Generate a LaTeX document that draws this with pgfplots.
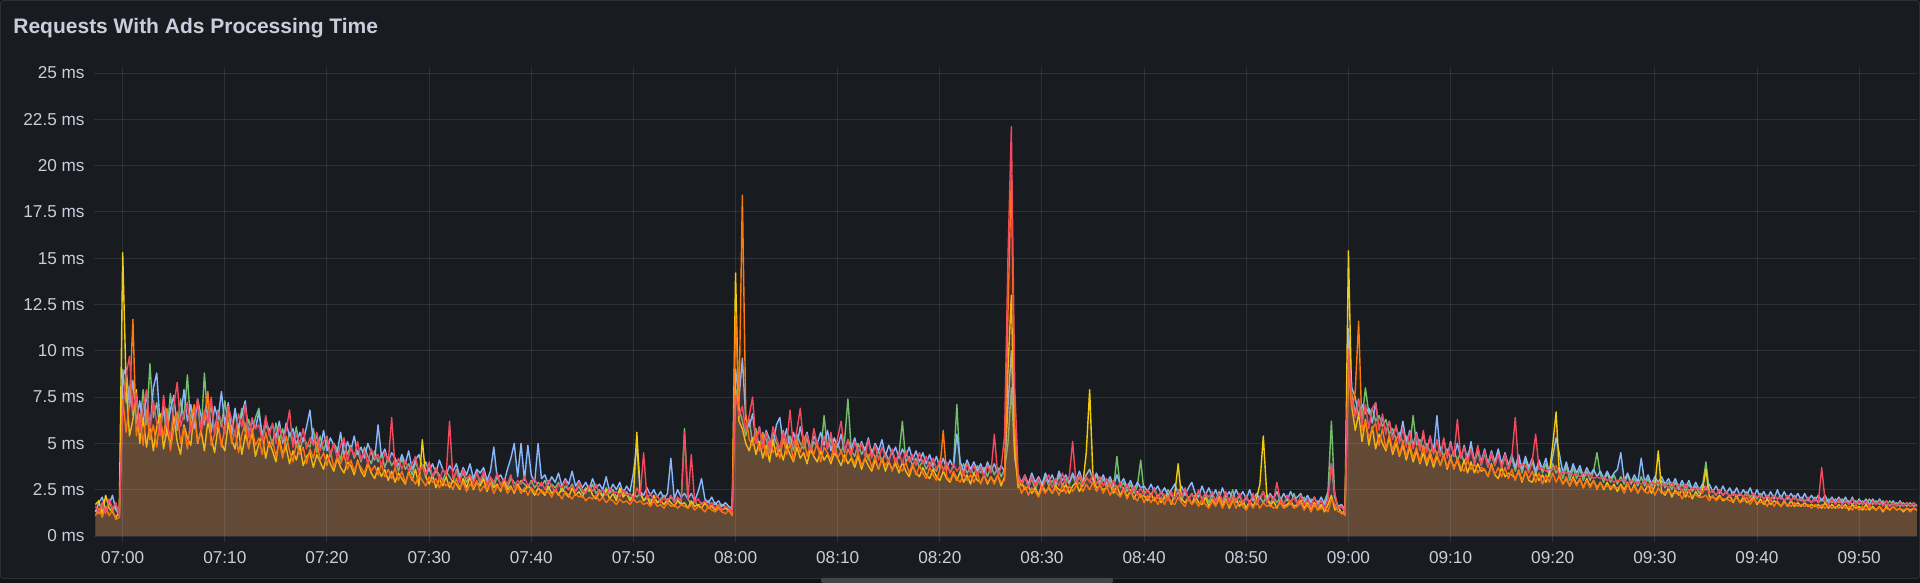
\documentclass[border=0pt]{standalone}
\usepackage{fontspec}
\setmainfont{Liberation Sans}
\usepackage{pgfplots}
\usepackage{pgfplotstable}
\pgfplotsset{compat=1.18}
\definecolor{canvas}{RGB}{17,18,23}
\definecolor{panel}{RGB}{24,27,31}
\definecolor{pborder}{RGB}{44,47,53}
\definecolor{txt}{RGB}{204,204,220}
\definecolor{gridc}{RGB}{204,204,220}
\definecolor{sgreen}{RGB}{115,191,105}
\definecolor{syellow}{RGB}{242,204,12}
\definecolor{sblue}{RGB}{138,184,255}
\definecolor{sorange}{RGB}{255,120,10}
\definecolor{sred}{RGB}{242,73,92}
\definecolor{barc}{RGB}{66,68,73}
\pgfplotstableread{
i g yl b o r
-8 1.4 1.7 1.3 1.1 1.6
-7 1.2 1.9 1.8 1.5 1.3
-6 1.7 1.2 2.1 1.0 1.8
-5 1.3 2.2 1.4 1.6 1.2
-4 1.9 1.5 1.7 1.1 2.0
-3 1.4 1.3 2.2 1.4 1.5
-2 1.6 1.0 1.4 0.9 1.8
-1 1.1 1.3 1.2 1.0 1.1
0 9.0 15.3 8.6 7.4 6.9
1 7.2 8.2 9.1 5.6 8.7
2 8.1 5.4 7.0 7.2 9.7
3 6.5 6.3 8.4 11.7 6.8
4 7.6 7.9 6.1 5.4 7.7
5 5.8 5.0 7.3 6.6 5.6
6 7.9 6.4 6.0 4.9 6.9
7 6.0 4.8 7.8 6.8 7.9
8 9.3 6.1 5.7 5.2 5.8
9 6.4 4.6 8.0 6.0 7.3
10 7.2 5.9 8.8 4.8 6.1
11 5.6 6.6 6.0 6.4 5.4
12 6.9 4.7 7.0 5.3 7.6
13 5.4 5.8 5.5 6.9 6.0
14 7.7 4.9 6.8 4.6 5.3
15 6.1 6.5 7.6 5.8 7.0
16 5.7 5.1 5.9 6.7 8.3
17 7.4 4.4 6.4 5.0 5.9
18 6.3 6.0 7.9 5.9 6.6
19 8.7 5.3 6.2 4.7 7.2
20 5.9 4.9 7.1 6.3 5.6
21 6.6 6.8 5.8 7.1 6.4
22 7.1 5.0 7.4 5.1 7.4
23 5.5 5.7 6.5 5.6 5.7
24 8.8 4.6 6.0 6.4 6.8
25 6.2 6.2 7.7 7.8 6.1
26 7.0 5.3 5.6 4.9 7.5
27 5.7 4.5 7.0 5.5 5.4
28 6.8 5.9 6.3 6.2 6.7
29 5.9 5.0 7.8 4.8 6.2
30 7.3 4.6 6.0 5.9 5.5
31 6.0 6.1 7.2 6.8 7.0
32 5.4 5.2 5.6 5.0 6.3
33 6.7 4.7 6.9 5.7 5.4
34 5.8 5.8 5.7 4.5 6.6
35 6.9 4.4 6.6 5.5 5.9
36 5.6 5.5 7.3 6.1 7.1
37 6.3 4.8 5.5 4.7 5.3
38 5.5 5.6 6.2 5.8 6.4
39 6.4 4.3 5.8 4.9 5.8
40 6.9 5.0 6.7 5.3 6.0
41 5.3 5.4 5.4 4.4 5.1
42 6.0 4.2 6.3 5.6 6.5
43 5.6 5.1 5.7 4.8 5.4
44 4.9 4.6 6.0 5.2 6.1
45 6.1 4.0 5.3 4.3 5.0
46 5.2 5.3 6.2 5.1 5.9
47 5.8 4.4 5.0 4.2 5.2
48 4.7 4.8 6.1 5.4 5.7
49 5.6 3.9 5.4 4.6 6.8
50 5.0 4.6 5.8 4.0 4.8
51 5.9 4.1 4.9 5.0 5.5
52 4.6 4.9 5.6 4.4 5.0
53 5.3 3.8 5.1 4.8 5.8
54 5.0 4.3 5.9 3.9 4.7
55 4.8 4.5 6.8 4.7 5.3
56 5.8 3.7 5.0 4.2 4.9
57 4.5 4.4 5.4 5.1 5.6
58 5.4 4.0 4.7 4.1 4.6
59 4.6 3.6 5.7 4.5 5.1
60 5.2 4.4 4.6 3.8 5.4
61 4.3 3.9 5.3 4.6 4.4
62 5.0 3.5 4.9 3.7 5.0
63 4.7 4.2 4.5 4.3 4.2
64 4.1 3.7 5.6 3.9 4.9
65 5.1 3.4 4.3 4.4 5.3
66 4.4 4.0 5.1 3.6 4.0
67 4.9 3.8 4.6 4.1 4.8
68 4.2 3.3 5.4 3.5 4.3
69 4.6 4.1 4.4 4.0 5.1
70 4.0 3.5 4.8 3.7 4.1
71 4.8 3.2 4.2 3.4 4.6
72 4.3 3.9 5.0 4.0 3.9
73 3.9 3.4 4.5 3.5 4.7
74 4.6 3.1 4.1 3.8 4.2
75 4.0 3.7 6.0 3.3 4.4
76 4.4 3.2 4.3 3.9 3.8
77 3.7 3.6 4.7 3.2 4.5
78 4.3 3.0 4.0 3.6 4.0
79 3.8 3.5 4.5 3.1 6.4
80 4.1 2.9 4.2 3.7 3.7
81 3.5 3.4 3.8 3.0 4.2
82 4.2 3.1 4.4 3.5 3.6
83 3.6 2.8 3.9 2.9 4.1
84 3.9 3.5 4.6 3.4 3.5
85 3.3 3.0 3.6 3.1 3.9
86 4.0 3.6 4.1 2.8 4.3
87 3.5 2.7 4.4 3.3 3.4
88 3.8 5.2 3.7 3.0 3.8
89 3.2 3.2 4.0 2.7 3.3
90 3.7 2.8 3.5 3.2 4.0
91 3.1 3.3 3.9 2.9 3.2
92 3.6 2.6 3.4 3.1 3.7
93 3.3 3.1 4.1 2.6 3.0
94 3.0 2.7 3.6 3.0 3.6
95 3.5 3.2 3.3 2.7 3.3
96 3.2 2.6 3.8 2.9 6.2
97 2.9 3.0 3.5 2.5 3.1
98 3.6 2.8 3.9 3.1 3.5
99 3.1 2.5 3.2 2.6 2.9
100 3.4 3.1 3.7 2.9 3.6
101 2.9 2.6 3.3 2.4 3.1
102 3.3 3.2 3.9 2.8 3.3
103 3.0 2.5 3.1 2.6 2.8
104 3.5 2.9 3.6 3.0 3.4
105 2.8 2.7 3.4 2.4 3.0
106 3.3 3.1 3.7 2.7 3.5
107 2.9 2.4 3.0 2.5 2.7
108 3.1 2.9 3.5 2.9 3.2
109 2.7 2.6 4.8 2.3 2.9
110 3.2 2.8 3.1 2.7 3.4
111 2.8 2.4 3.3 2.5 2.7
112 3.0 3.0 2.9 2.8 3.1
113 2.6 2.5 3.6 2.3 2.8
114 3.1 2.7 4.2 2.6 3.3
115 2.9 2.3 5.0 2.4 2.6
116 2.7 2.8 3.2 2.7 3.0
117 3.0 2.5 5.0 2.3 2.8
118 2.8 2.4 3.0 2.6 3.2
119 2.6 2.8 4.9 2.2 2.7
120 3.0 2.5 3.3 2.6 2.9
121 2.6 2.2 2.9 2.4 3.1
122 2.9 2.6 5.0 2.2 2.6
123 2.7 2.4 3.1 2.5 2.9
124 3.0 2.2 3.3 2.3 2.5
125 2.5 2.7 2.8 2.4 3.0
126 2.8 2.3 3.2 2.1 2.7
127 2.6 2.5 2.9 2.5 2.4
128 2.9 2.2 3.4 2.3 2.8
129 2.4 2.6 2.7 2.0 2.6
130 2.7 2.3 3.1 2.4 3.0
131 2.5 2.1 2.8 2.2 2.5
132 2.8 2.6 3.5 2.0 2.7
133 2.4 2.2 2.7 2.3 2.4
134 2.7 2.4 3.0 2.1 2.9
135 2.3 2.1 2.6 2.2 2.5
136 2.6 2.5 2.9 1.9 2.3
137 2.4 2.7 2.5 2.1 2.7
138 2.8 2.2 3.1 2.0 2.4
139 2.3 2.0 2.6 2.2 2.8
140 2.5 2.4 2.8 1.9 2.3
141 2.2 2.1 2.5 2.1 2.5
142 2.6 2.5 3.2 1.8 2.2
143 2.3 2.0 2.4 2.0 2.6
144 2.5 2.3 2.8 1.9 2.3
145 2.1 1.9 2.5 1.7 2.4
146 2.4 2.6 2.9 2.0 2.1
147 2.2 2.1 2.3 1.8 2.5
148 2.4 2.3 2.7 1.9 2.2
149 2.0 1.9 2.4 1.7 2.3
150 2.3 2.2 3.4 2.0 2.0
151 2.1 5.6 4.9 1.8 2.6
152 2.3 2.4 2.4 1.9 2.2
153 1.9 1.9 2.2 1.7 4.5
154 2.2 2.1 2.6 1.8 2.0
155 1.9 1.7 2.2 1.6 2.3
156 2.1 2.2 2.5 1.9 1.9
157 1.8 1.8 2.1 1.6 2.2
158 2.0 1.9 2.4 1.7 1.8
159 2.2 1.7 2.0 1.5 2.1
160 1.8 2.0 2.3 1.8 1.9
161 2.1 1.8 4.2 1.6 2.2
162 1.9 1.6 2.0 1.7 1.8
163 2.0 1.9 2.5 1.5 2.1
164 1.7 1.7 2.1 1.7 1.9
165 5.8 1.8 2.3 1.6 5.6
166 2.0 1.5 2.0 1.5 2.0
167 1.7 1.9 2.3 1.7 4.4
168 1.9 1.6 1.9 1.4 1.8
169 1.6 1.7 2.4 1.6 2.0
170 1.8 1.5 3.1 1.5 1.7
171 1.7 1.8 2.0 1.3 1.9
172 1.9 1.5 1.8 1.6 1.6
173 1.6 1.6 2.1 1.4 1.8
174 1.8 1.4 1.7 1.3 1.5
175 1.5 1.7 1.9 1.5 1.7
176 1.7 1.4 1.6 1.3 1.4
177 1.6 1.5 1.8 1.2 1.6
178 1.4 1.4 1.6 1.4 1.5
179 1.5 1.3 1.5 1.1 1.3
180 8.0 14.2 9.0 12.1 7.6
181 6.9 6.2 7.4 7.0 6.5
182 6.2 5.8 9.6 18.4 7.0
183 5.4 5.0 6.3 6.6 5.7
184 6.3 4.6 5.9 5.2 6.5
185 5.0 5.3 6.6 4.9 7.5
186 5.8 4.4 5.1 5.6 5.0
187 4.7 5.1 5.9 4.6 5.9
188 5.6 4.2 4.8 5.5 4.7
189 5.2 4.9 5.7 4.3 5.6
190 4.5 4.0 5.2 5.2 4.6
191 5.6 5.2 4.9 4.5 5.9
192 5.0 4.3 6.0 4.8 5.3
193 4.6 4.7 6.4 4.2 4.7
194 5.7 4.1 5.0 5.3 5.6
195 4.8 4.9 5.8 4.4 5.0
196 5.4 4.4 4.8 5.0 6.8
197 4.6 4.0 5.6 4.1 4.8
198 5.5 4.8 4.9 5.2 5.7
199 5.0 4.2 5.9 4.5 6.9
200 4.7 4.5 5.1 5.4 4.9
201 5.3 3.9 5.6 4.3 5.5
202 4.5 4.7 4.7 4.9 4.6
203 5.1 4.3 5.4 4.4 5.8
204 4.8 4.0 5.0 5.1 4.9
205 4.4 4.6 5.6 4.0 4.6
206 6.5 4.1 4.9 4.8 5.4
207 4.7 4.4 5.7 4.5 4.7
208 5.3 3.9 4.6 4.1 5.6
209 4.4 4.5 5.3 5.0 4.5
210 5.0 4.2 4.8 4.2 5.3
211 4.5 3.8 5.5 4.6 6.2
212 5.1 4.4 4.5 4.0 4.6
213 7.4 3.9 5.2 4.7 5.2
214 4.6 4.2 4.7 4.3 4.4
215 4.3 3.7 5.3 3.9 5.1
216 5.0 4.3 4.5 4.5 4.5
217 4.4 3.6 5.1 3.8 5.0
218 4.8 4.2 4.6 4.2 4.3
219 4.1 3.8 5.3 4.4 5.2
220 4.7 3.5 4.4 3.7 4.2
221 4.2 4.1 5.0 4.3 4.9
222 4.6 3.6 4.6 3.6 4.1
223 4.0 4.2 5.2 4.2 4.8
224 4.5 3.5 4.3 3.8 4.3
225 4.1 4.0 4.9 4.1 4.0
226 4.6 3.6 4.4 3.5 4.7
227 3.9 3.9 4.8 4.2 4.0
228 4.4 3.4 4.2 3.7 4.5
229 6.2 4.0 4.7 3.5 3.9
230 4.0 3.5 4.3 4.0 4.6
231 4.3 3.2 4.8 3.4 4.0
232 3.8 3.8 4.1 3.9 4.4
233 4.2 3.4 4.6 3.3 3.8
234 3.7 3.2 4.0 3.8 4.5
235 4.1 3.7 4.5 3.4 3.9
236 3.6 3.3 3.9 3.1 4.3
237 4.0 3.1 4.4 3.7 3.7
238 3.7 3.6 3.8 3.3 4.2
239 3.5 3.2 4.3 3.0 3.6
240 4.0 3.0 3.7 3.6 4.1
241 3.6 3.5 4.2 5.7 3.5
242 3.9 3.1 3.6 3.2 4.0
243 3.4 2.9 4.1 3.0 3.4
244 3.8 3.4 3.7 3.5 3.9
245 7.1 3.0 5.5 3.1 3.5
246 3.5 3.5 4.0 2.9 3.8
247 3.9 2.9 3.5 3.4 3.3
248 3.4 3.3 4.1 3.0 3.9
249 3.7 2.8 3.6 3.3 3.4
250 3.3 3.4 4.0 2.9 3.8
251 3.8 3.0 3.5 3.4 3.3
252 3.4 2.9 3.9 2.8 3.7
253 3.7 3.3 3.4 3.3 3.2
254 3.2 2.8 4.0 2.9 3.8
255 3.8 3.2 3.5 3.2 3.4
256 3.3 2.9 3.9 2.8 5.5
257 3.7 3.3 3.4 3.3 3.3
258 3.2 2.7 3.8 2.9 3.7
259 3.6 3.2 3.5 3.0 5.4
260 5.0 9.0 7.0 12.0 15.0
261 8.0 13.0 10.0 19.5 22.1
262 4.2 4.5 5.0 6.0 8.0
263 3.1 2.6 3.3 2.9 3.4
264 2.7 2.9 2.9 2.3 2.8
265 3.2 2.5 3.3 2.7 3.3
266 2.6 2.7 2.8 2.2 2.6
267 3.1 2.3 3.4 2.6 3.2
268 2.5 2.6 2.9 2.4 2.7
269 3.0 2.2 3.2 2.1 3.1
270 2.6 2.8 2.8 2.6 2.5
271 3.2 2.4 3.4 2.3 3.0
272 2.7 2.6 2.9 2.7 3.3
273 3.0 2.3 3.3 2.3 2.6
274 2.6 2.7 2.8 2.6 3.1
275 3.3 2.5 3.5 2.2 2.7
276 2.7 2.4 3.0 2.8 3.4
277 3.1 2.8 3.3 2.3 2.8
278 2.8 2.3 2.9 2.7 3.2
279 3.3 2.7 3.4 2.4 5.1
280 2.8 2.9 3.0 2.7 2.9
281 3.2 2.4 3.5 2.9 3.3
282 2.7 2.8 2.9 2.4 2.8
283 3.1 4.5 3.3 2.8 3.2
284 3.0 7.9 3.6 2.5 2.9
285 2.8 3.1 3.0 2.9 3.4
286 3.3 2.6 3.4 2.4 2.8
287 2.7 2.7 2.9 2.8 3.2
288 3.1 2.5 3.3 2.3 2.7
289 2.6 2.6 2.8 2.7 3.1
290 3.0 2.8 3.2 2.2 2.6
291 2.5 2.3 2.7 2.6 3.0
292 4.3 2.7 3.3 2.3 2.5
293 2.6 2.2 2.8 2.1 2.9
294 2.9 2.6 3.1 2.5 2.4
295 2.4 2.1 2.6 2.0 2.8
296 2.8 2.5 3.0 2.4 2.3
297 2.3 2.0 2.5 2.1 2.7
298 2.7 2.4 2.9 1.9 2.2
299 4.1 2.1 2.6 2.3 2.6
300 2.3 2.2 2.7 1.8 2.2
301 2.5 1.9 2.4 2.2 2.5
302 2.2 2.3 2.8 1.8 2.1
303 2.6 1.9 2.4 2.1 2.6
304 2.1 2.2 2.7 1.7 2.0
305 2.4 1.8 2.3 2.1 2.4
306 2.0 2.1 2.6 1.7 2.2
307 2.5 2.2 2.2 2.2 1.9
308 2.2 1.7 2.5 1.8 2.4
309 2.0 2.3 2.8 1.7 2.0
310 2.4 3.9 2.3 2.1 2.5
311 1.9 2.0 2.7 1.8 2.1
312 2.5 1.8 2.2 1.6 2.6
313 2.0 2.1 2.6 2.1 1.9
314 2.3 1.7 2.9 1.7 2.3
315 1.9 2.2 2.3 1.9 2.0
316 2.4 1.8 2.1 1.6 2.5
317 2.0 1.7 2.7 2.0 1.9
318 2.3 2.1 2.2 1.7 2.3
319 1.8 1.6 2.6 1.5 2.1
320 2.3 2.0 2.1 1.9 2.4
321 1.9 1.7 2.5 1.6 1.8
322 2.4 2.1 2.0 2.0 2.3
323 1.8 1.6 2.6 1.5 1.9
324 2.2 2.0 2.1 1.9 2.4
325 1.9 1.5 2.4 1.6 1.8
326 2.5 1.9 2.0 2.0 2.2
327 1.8 2.0 2.5 1.5 1.9
328 2.2 1.6 2.1 1.9 2.3
329 1.7 1.9 2.4 1.6 1.8
330 2.1 1.5 2.0 1.4 2.2
331 1.8 1.9 2.5 1.8 1.7
332 2.2 1.6 1.9 1.5 2.3
333 1.7 2.0 2.3 1.9 1.8
334 2.1 2.8 2.0 1.5 2.1
335 1.8 5.4 2.4 1.8 2.4
336 2.2 2.3 1.9 1.6 1.8
337 1.7 1.6 2.3 1.7 2.2
338 2.1 1.9 2.0 1.5 1.9
339 1.8 1.5 2.4 1.6 2.9
340 2.1 1.9 1.9 1.8 1.9
341 1.7 1.6 2.3 1.5 1.7
342 2.2 1.7 1.9 1.6 2.2
343 1.7 1.9 2.4 1.8 1.8
344 2.3 1.6 2.0 1.5 2.1
345 1.8 1.7 2.1 1.6 1.7
346 1.9 1.9 2.3 1.8 2.2
347 2.1 1.5 1.8 1.4 1.7
348 1.6 1.8 2.2 1.7 2.0
349 2.0 1.4 1.8 1.3 1.6
350 1.6 1.8 2.1 1.7 2.1
351 1.9 1.4 1.7 1.4 1.6
352 1.5 1.7 2.1 1.5 1.9
353 1.9 1.3 1.7 1.6 1.5
354 2.4 1.7 2.2 1.3 2.0
355 6.2 2.2 3.9 2.0 3.9
356 2.1 1.4 2.1 1.7 2.3
357 1.5 1.6 1.6 1.3 1.5
358 1.6 1.2 1.7 1.3 1.6
359 1.3 1.4 1.4 1.1 1.3
360 9.2 15.4 11.2 9.0 10.1
361 7.6 7.0 8.0 6.8 7.4
362 6.7 5.7 7.5 7.8 6.4
363 7.4 6.6 6.5 11.6 7.3
364 6.3 5.1 7.1 5.7 6.0
365 8.0 6.3 6.6 6.2 7.1
366 6.6 4.9 6.9 5.3 5.8
367 6.9 5.9 6.1 5.8 6.9
368 6.2 4.7 7.2 6.1 7.2
369 6.5 5.5 5.8 4.9 5.7
370 5.9 5.0 6.4 5.8 6.6
371 6.3 4.6 5.6 4.7 5.5
372 5.5 5.3 6.2 5.5 6.2
373 5.8 4.4 5.4 4.6 5.2
374 5.2 5.0 5.9 5.3 6.0
375 5.6 4.3 5.2 4.4 5.0
376 5.0 4.9 6.2 5.1 5.8
377 5.4 4.1 5.0 4.3 4.8
378 4.8 4.8 5.7 5.0 5.6
379 6.5 4.0 4.9 4.2 4.7
380 4.9 4.6 5.6 4.8 5.5
381 5.2 3.9 4.7 4.0 4.6
382 4.6 4.5 5.5 4.9 5.7
383 5.0 3.8 4.6 4.0 4.5
384 4.5 4.4 5.4 4.6 5.4
385 4.9 3.7 4.5 3.9 4.4
386 4.4 4.3 6.5 4.5 5.2
387 4.8 3.8 4.4 3.8 4.3
388 4.3 4.4 5.2 4.4 5.3
389 4.7 3.6 4.3 3.7 4.2
390 4.2 4.2 5.1 4.3 5.0
391 4.6 3.7 4.3 3.6 4.3
392 4.1 4.1 5.0 4.2 6.3
393 4.5 3.5 4.2 3.7 4.2
394 4.0 4.1 4.9 3.5 4.8
395 4.4 3.4 4.1 4.1 4.0
396 4.8 4.0 5.1 3.6 4.7
397 3.9 3.4 4.0 3.9 3.9
398 4.6 3.9 4.8 3.4 4.9
399 3.8 3.5 4.0 3.7 3.8
400 4.5 3.6 4.7 3.6 4.6
401 3.7 3.2 3.9 3.2 3.7
402 4.4 3.9 4.6 3.8 4.5
403 3.8 3.3 4.0 3.3 3.8
404 4.5 3.1 4.7 3.7 4.4
405 3.7 3.7 3.9 3.2 3.7
406 4.3 3.2 4.5 3.7 4.4
407 3.6 3.4 3.8 3.1 3.6
408 4.2 3.3 4.4 3.6 4.3
409 3.5 3.1 3.7 3.0 6.4
410 4.2 3.5 4.4 3.6 3.7
411 3.4 2.9 3.6 3.0 3.9
412 4.1 3.5 4.3 3.5 3.8
413 3.5 3.0 3.7 3.1 3.4
414 4.0 2.9 4.2 3.5 4.1
415 3.3 3.4 3.5 2.9 5.5
416 4.0 3.0 4.1 3.4 3.6
417 3.4 3.3 3.6 2.8 3.7
418 3.9 2.9 4.2 3.3 3.5
419 3.2 3.4 3.4 2.9 3.6
420 3.9 4.9 4.3 3.4 3.6
421 3.4 6.7 5.3 2.9 3.8
422 3.7 3.2 4.4 3.3 3.3
423 3.1 2.8 3.4 2.8 3.5
424 3.8 3.1 4.0 3.2 3.4
425 3.0 2.7 3.3 2.7 3.4
426 3.7 3.2 3.9 3.1 3.3
427 3.1 2.8 3.4 2.7 3.3
428 3.6 3.1 3.8 3.1 3.2
429 3.0 2.6 3.2 2.6 3.4
430 3.5 3.1 3.7 3.0 3.3
431 3.0 2.7 3.3 2.6 3.3
432 3.5 3.0 3.6 3.0 3.1
433 4.5 2.6 3.2 2.5 3.2
434 3.3 2.9 3.5 2.9 3.1
435 2.9 2.5 3.1 2.6 3.2
436 3.4 2.9 3.5 2.7 3.0
437 2.9 2.5 3.1 2.7 3.1
438 3.3 2.8 3.4 2.6 2.9
439 2.8 2.4 3.6 2.6 3.0
440 3.2 2.8 4.5 2.7 3.0
441 2.8 2.5 3.0 2.3 3.1
442 3.3 2.9 3.4 2.8 2.8
443 2.8 2.4 2.9 2.4 3.0
444 3.1 2.8 3.3 2.7 2.9
445 2.7 2.3 2.9 2.3 2.9
446 3.2 2.7 4.2 2.7 2.8
447 2.7 2.4 2.9 2.4 3.0
448 3.1 2.8 3.3 2.3 2.7
449 2.6 2.3 2.8 2.7 2.9
450 3.0 2.7 3.2 2.2 2.8
451 2.7 4.6 2.9 2.6 2.9
452 3.0 2.4 3.2 2.3 2.7
453 2.6 2.2 2.8 2.4 2.8
454 2.9 2.6 3.1 2.4 2.6
455 2.5 2.1 2.7 2.3 2.9
456 2.9 2.5 3.1 2.3 2.5
457 2.5 2.2 2.6 2.4 2.8
458 2.8 2.5 3.0 2.0 2.4
459 2.4 2.1 2.6 2.4 2.8
460 2.8 2.5 3.0 2.1 2.4
461 2.4 2.0 2.5 2.2 2.6
462 2.7 2.4 2.9 2.2 2.5
463 2.3 2.1 2.5 2.1 2.6
464 2.7 2.5 2.8 2.1 2.3
465 4.0 3.6 2.5 2.2 2.7
466 2.4 2.1 2.8 1.9 2.3
467 2.4 2.1 2.4 2.2 2.5
468 2.2 2.0 2.7 1.9 2.2
469 2.5 2.2 2.3 2.1 2.5
470 2.2 1.9 2.7 2.0 2.2
471 2.4 2.0 2.3 2.0 2.4
472 2.1 2.2 2.6 1.9 2.1
473 2.4 1.8 2.2 1.9 2.3
474 2.1 2.2 2.6 2.1 2.2
475 2.3 1.8 2.2 1.8 2.3
476 2.1 2.1 2.5 1.9 2.1
477 2.4 1.8 2.2 2.1 2.3
478 2.1 1.9 2.6 1.7 2.0
479 2.3 2.1 2.1 2.0 2.3
480 2.0 1.7 2.5 1.8 2.1
481 2.3 2.0 2.1 1.8 2.2
482 2.0 1.7 2.4 1.9 2.0
483 2.2 2.0 2.0 1.6 2.2
484 2.0 1.7 2.4 2.0 1.9
485 2.2 1.9 2.0 1.6 2.2
486 2.0 1.8 2.5 1.9 2.0
487 2.2 1.6 2.0 1.6 2.1
488 1.9 1.9 2.4 1.8 1.9
489 2.1 1.6 2.0 1.7 2.2
490 1.9 1.9 2.3 1.6 1.9
491 2.2 1.6 2.0 1.8 2.1
492 1.9 1.8 2.3 1.6 1.9
493 2.1 1.6 1.9 1.7 2.0
494 1.9 1.8 2.3 1.6 1.8
495 2.0 1.6 1.9 1.7 2.1
496 1.8 1.7 2.2 1.5 1.8
497 2.1 1.6 1.9 1.7 2.0
498 1.8 1.7 2.2 1.5 1.8
499 2.0 1.5 1.9 1.7 3.7
500 1.8 1.8 2.2 1.5 1.9
501 2.0 1.5 1.8 1.7 1.7
502 1.8 1.7 2.1 1.5 2.0
503 2.0 1.5 1.8 1.6 1.7
504 1.8 1.7 2.1 1.5 2.0
505 2.0 1.5 1.8 1.7 1.7
506 1.8 1.7 2.1 1.5 1.9
507 1.9 1.4 1.7 1.6 1.7
508 1.7 1.7 2.1 1.4 2.0
509 1.9 1.5 1.7 1.7 1.7
510 1.7 1.6 2.0 1.4 1.9
511 1.9 1.4 1.7 1.6 1.7
512 1.7 1.7 2.0 1.4 1.9
513 2.0 1.4 1.7 1.6 1.6
514 1.7 1.6 2.0 1.5 1.9
515 1.9 1.4 1.7 1.4 1.7
516 1.7 1.6 2.0 1.6 1.9
517 1.9 1.3 1.7 1.4 1.6
518 1.6 1.6 1.9 1.5 1.9
519 1.9 1.4 1.6 1.4 1.6
520 1.7 1.6 1.9 1.6 1.8
521 1.8 1.4 1.6 1.4 1.6
522 1.6 1.5 1.9 1.5 1.8
523 1.8 1.3 1.6 1.4 1.6
524 1.6 1.5 1.8 1.5 1.8
525 1.8 1.4 1.6 1.3 1.6
526 1.6 1.5 1.8 1.5 1.8
527 1.7 1.4 1.6 1.4 1.6
}\data
\begin{document}
\begin{tikzpicture}
\path[use as bounding box, fill=canvas] (0,0) rectangle (960bp,291.5bp);
\fill[panel, draw=pborder, line width=0.5bp, rounded corners=1.5bp] (0.25bp,2.25bp) rectangle (959.75bp,291.25bp);
\fill[barc, rounded corners=1bp] (410.5bp,0bp) rectangle (556.5bp,2.6bp);
\node[anchor=base west, inner sep=0pt, text=txt, font=\fontsize{10.5bp}{12bp}\selectfont\bfseries] at (6.5bp,274.85bp) {Requests With Ads Processing Time};
\begin{axis}[
  at={(47bp,23.5bp)}, anchor=south west,
  scale only axis, width=911.5bp, height=231.5bp,
  xmin=-8.43, xmax=527.0, ymin=0, ymax=25,
  enlarge x limits=false, enlarge y limits=false,
  axis line style={draw=none},
  axis on top,
  grid=major,
  major grid style={draw=gridc, draw opacity=0.12, line width=0.5bp},
  xtick={0,30,...,510},
  xticklabels={07:00,07:10,07:20,07:30,07:40,07:50,08:00,08:10,08:20,08:30,08:40,08:50,09:00,09:10,09:20,09:30,09:40,09:50},
  ytick={0,2.5,...,25},
  yticklabels={0 ms,2.5 ms,5 ms,7.5 ms,10 ms,12.5 ms,15 ms,17.5 ms,20 ms,22.5 ms,25 ms},
  x tick style={draw=gridc, draw opacity=0.12, line width=0.5bp},
  tick align=outside, major tick length=3bp,
  ytick style={draw=none},
  every tick label/.append style={text=txt, font=\fontsize{8.6bp}{10bp}\selectfont, inner sep=0pt},
  yticklabel style={anchor=east, xshift=-1.5bp},
  xticklabel style={anchor=north, yshift=-4.5bp},
]
\addplot[draw=none, fill=sgreen, fill opacity=0.1] table[x=i,y=g] {\data} \closedcycle;
\addplot[sgreen, line width=0.7bp, line join=round] table[x=i,y=g] {\data};
\addplot[draw=none, fill=sblue, fill opacity=0.1] table[x=i,y=b] {\data} \closedcycle;
\addplot[sblue, line width=0.7bp, line join=round] table[x=i,y=b] {\data};
\addplot[draw=none, fill=syellow, fill opacity=0.1] table[x=i,y=yl] {\data} \closedcycle;
\addplot[syellow, line width=0.7bp, line join=round] table[x=i,y=yl] {\data};
\addplot[draw=none, fill=sorange, fill opacity=0.1] table[x=i,y=o] {\data} \closedcycle;
\addplot[sorange, line width=0.7bp, line join=round] table[x=i,y=o] {\data};
\addplot[draw=none, fill=sred, fill opacity=0.1] table[x=i,y=r] {\data} \closedcycle;
\addplot[sred, line width=0.7bp, line join=round] table[x=i,y=r] {\data};
\end{axis}
\end{tikzpicture}
\end{document}
